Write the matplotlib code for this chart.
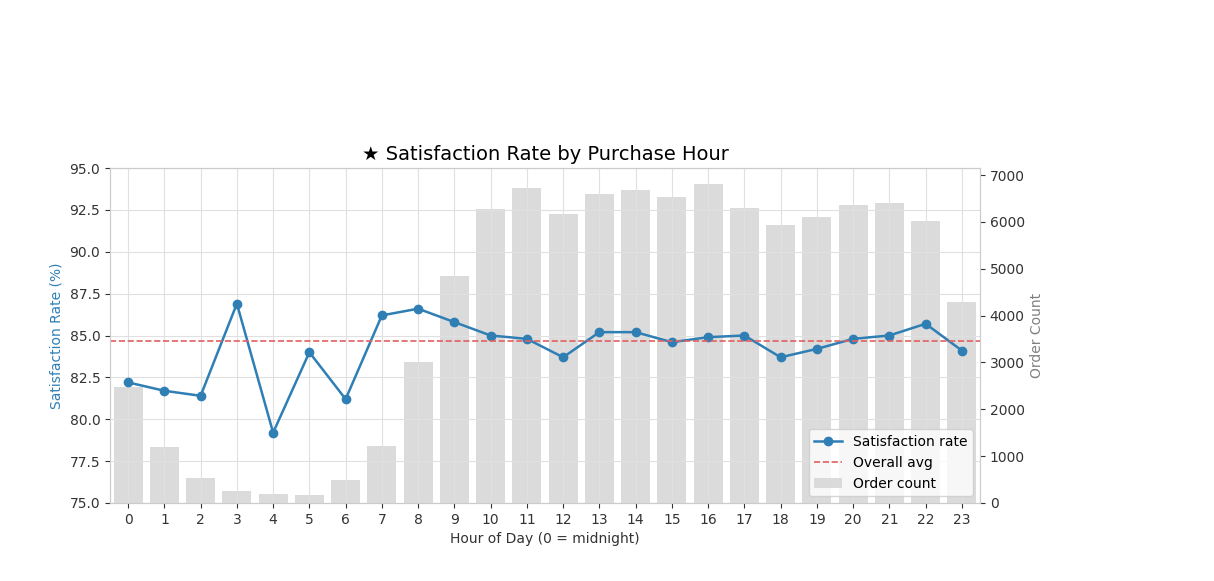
import matplotlib
matplotlib.use("Agg")
import matplotlib.pyplot as plt
import numpy as np

hours = list(range(24))
satisfaction = [82.2, 81.7, 81.4, 86.9, 79.2, 84.0, 81.2, 86.2, 86.6, 85.8, 85.0, 84.8,
                83.7, 85.2, 85.2, 84.6, 84.9, 85.0, 83.7, 84.2, 84.8, 85.0, 85.7, 84.1]
order_count = [2470, 1190, 530, 255, 190, 170, 490, 1215, 3000, 4850, 6270, 6715,
               6160, 6590, 6675, 6525, 6800, 6290, 5930, 6100, 6355, 6400, 6015, 4285]
overall_avg = 84.7

W, H = 1214, 581
fig = plt.figure(figsize=(W/100, H/100), dpi=100)
ax1 = fig.add_axes([110/W, 1-503/H, (980-110)/W, (503-168)/H])
ax2 = ax1.twinx()
ax2.bar(hours, order_count, color='lightgrey', alpha=0.8, width=0.8, label='Order count')
ax1.set_zorder(ax2.get_zorder() + 1)
ax1.patch.set_visible(False)
ax1.grid(True, color='#e0e0e0', linewidth=0.8)
ax1.plot(hours, satisfaction, marker='o', color='#2f7fb5', linewidth=1.8,
         markersize=6, label='Satisfaction rate')
ax1.axhline(overall_avg, color='#e06060', linestyle='--', linewidth=1.2, label='Overall avg')
ax1.set_xlabel('Hour of Day (0 = midnight)', color='#333333')
ax1.set_ylabel('Satisfaction Rate (%)', color='#2f7fb5')
ax2.set_ylabel('Order Count', color='grey')
ax1.set_title('★ Satisfaction Rate by Purchase Hour', fontsize=14, family=['DejaVu Sans'])
ax1.set_ylim(75, 95); ax1.set_xlim(-0.5, 23.5)
ax1.set_xticks(range(24))
ax2.set_ylim(0, 7150)
for a in (ax1, ax2):
    for s in a.spines.values():
        s.set_color('#cccccc')
    a.tick_params(colors='#333333', labelsize=10)
l1, lb1 = ax1.get_legend_handles_labels()
l2, lb2 = ax2.get_legend_handles_labels()
ax1.legend(l1 + l2, lb1 + lb2, loc='lower right')
fig.savefig('out.png', dpi=100)
